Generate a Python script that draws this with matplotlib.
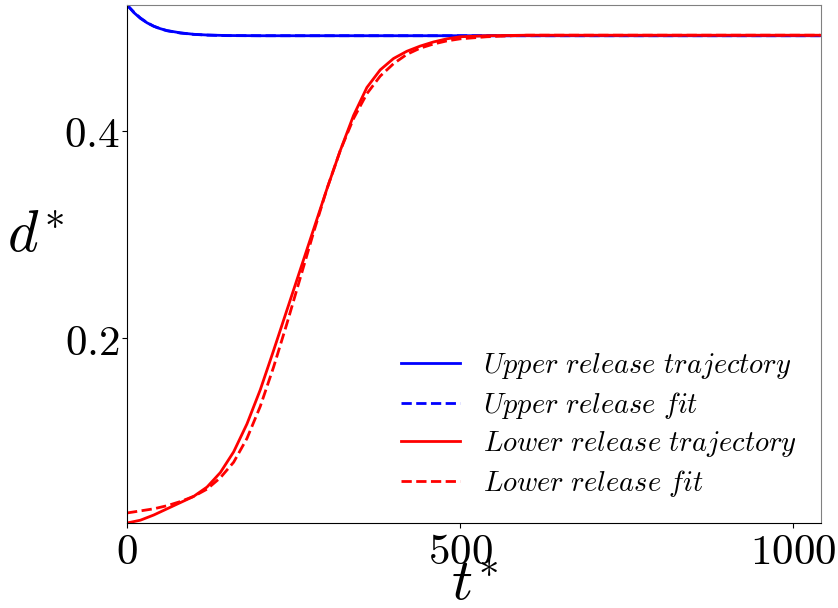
import numpy as np
import matplotlib.pyplot as plt

plt.rcParams['mathtext.fontset'] = 'cm'
plt.rcParams['font.family'] = 'serif'

# Upper release: trajectory and fit
t_up = [0, 10, 20, 30, 40, 50, 60, 80, 100, 120, 150, 200, 300, 400, 500, 600, 700, 800, 900, 1000, 1040]
d_up = [0.5217, 0.5145, 0.5088, 0.5045, 0.5012, 0.4988, 0.4970, 0.4948, 0.4934, 0.4927, 0.4922, 0.492,
        0.492, 0.492, 0.492, 0.492, 0.492, 0.492, 0.492, 0.492, 0.492]
d_up_fit = [0.5217, 0.5150, 0.5092, 0.5047, 0.5012, 0.4987, 0.4968, 0.4946, 0.4933, 0.4926, 0.4921, 0.492,
            0.492, 0.492, 0.492, 0.492, 0.492, 0.492, 0.492, 0.492, 0.492]

# Lower release: trajectory and fit
t_lo = [0, 20, 40, 60, 80, 100, 120, 140, 160, 180, 200, 220, 240, 260, 280, 300, 320, 340, 360,
        380, 400, 420, 440, 460, 480, 500, 540, 600, 700, 800, 900, 1000, 1040]
d_lo = [0.0213, 0.024, 0.029, 0.035, 0.041, 0.047, 0.056, 0.070, 0.090, 0.117, 0.150, 0.188, 0.227,
        0.266, 0.305, 0.344, 0.381, 0.415, 0.442, 0.459, 0.470, 0.477, 0.482, 0.486, 0.489, 0.491,
        0.492, 0.4925, 0.4925, 0.4925, 0.4925, 0.4925, 0.4925]
d_lo_fit = [0.031, 0.033, 0.035, 0.038, 0.042, 0.047, 0.054, 0.065, 0.080, 0.103, 0.134, 0.172, 0.214,
            0.258, 0.302, 0.344, 0.381, 0.412, 0.436, 0.453, 0.465, 0.474, 0.480, 0.484, 0.487, 0.489,
            0.491, 0.4925, 0.4925, 0.4925, 0.4925, 0.4925, 0.4925]

xticks = [0, 500, 1000]
yticks = [0.2, 0.4]

fig = plt.figure(figsize=(8.38, 6.08), dpi=100)
ax = fig.add_axes([0.1516, 0.1398, 0.8284, 0.852])

ax.plot(t_up, d_up, color='b', lw=2, label=r'$Upper\ release\ trajectory$')
ax.plot(t_up, d_up_fit, color='b', lw=2, ls='--', label=r'$Upper\ release\ fit$')
ax.plot(t_lo, d_lo, color='r', lw=2, label=r'$Lower\ release\ trajectory$')
ax.plot(t_lo, d_lo_fit, color='r', lw=2, ls='--', label=r'$Lower\ release\ fit$')

ax.set_xlim(0, 1042)
ax.set_ylim(min(d_lo), max(d_up))
ax.set_xticks(xticks)
ax.set_xticklabels([r'$%g$' % v for v in xticks], fontsize=31)
ax.set_yticks(yticks)
ax.set_yticklabels([r'$%g$' % v for v in yticks], fontsize=31)
ax.tick_params(axis='x', pad=2)
ax.tick_params(axis='y', pad=2)

ax.set_xlabel(r'$t^{*}$', fontsize=42, labelpad=-12)
ax.set_ylabel(r'$d^{*}$', fontsize=42, rotation=0, labelpad=20)

ax.spines['top'].set_color('0.5')
ax.spines['right'].set_color('0.5')

ax.legend(loc='lower right', frameon=False, fontsize=20.5, handlelength=2.1,
          labelspacing=0.3, borderaxespad=0.45)

plt.savefig('out.png', dpi=100)
